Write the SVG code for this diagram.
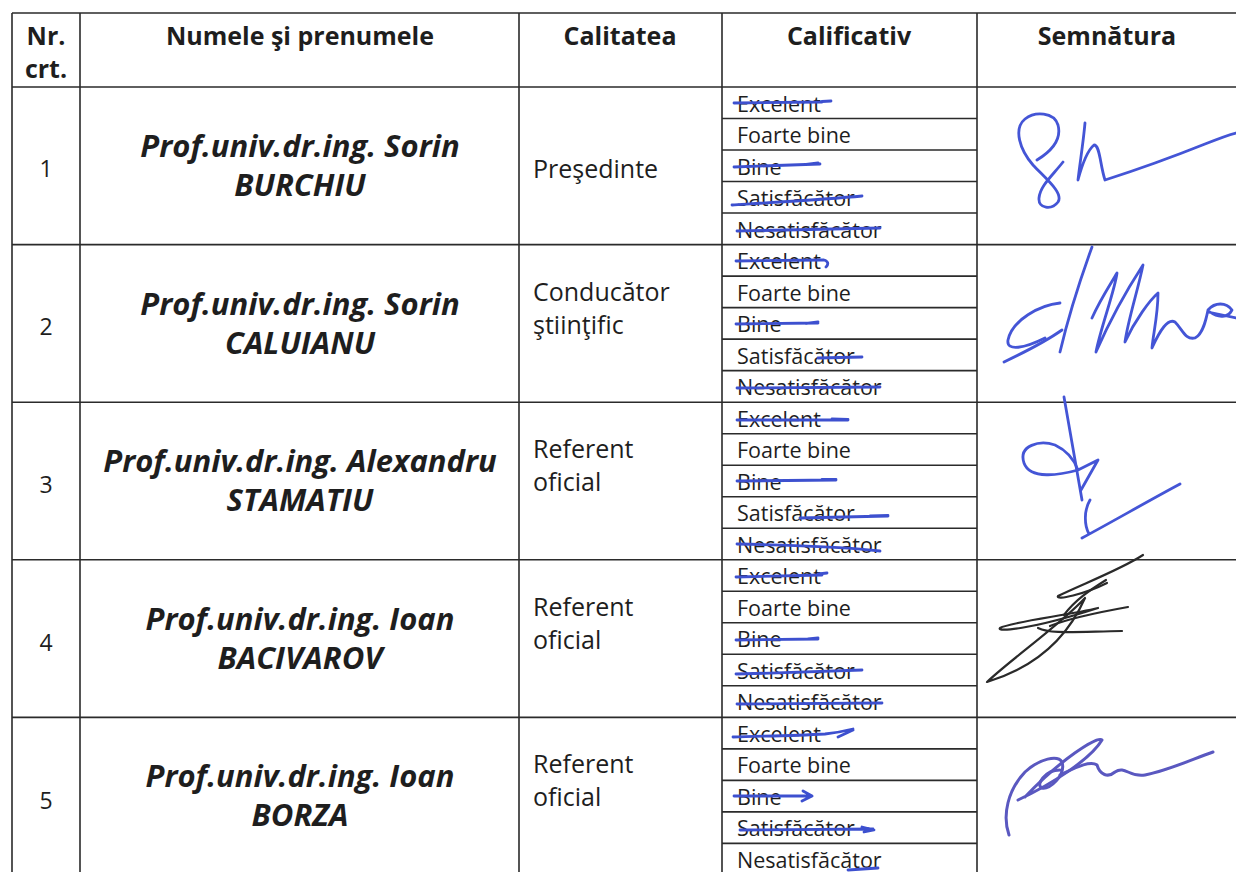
<svg xmlns="http://www.w3.org/2000/svg" width="1236" height="872" viewBox="0 0 1236 872">
<style>
.ln{stroke:#2b2b2b;stroke-width:1.6;fill:none}
.th{font-family:"Open Sans","Noto Sans",sans-serif;font-weight:bold;font-size:25px;fill:#1e1e1e;text-anchor:middle}
.num{font-family:"Open Sans","Noto Sans",sans-serif;font-size:23px;fill:#1e1e1e;text-anchor:middle}
.nm{font-family:"Open Sans","Noto Sans",sans-serif;font-weight:bold;font-style:italic;font-size:31px;fill:#1e1e1e;text-anchor:middle}
.cal{font-family:"Open Sans","Noto Sans",sans-serif;font-size:25px;fill:#1e1e1e}
.sub{font-family:"Open Sans","Noto Sans",sans-serif;font-size:21.5px;fill:#1e1e1e}
.ink{stroke:#3d50cf;stroke-width:2.8;fill:none;stroke-linecap:round;stroke-linejoin:round}
.sig{stroke:#4455d6;stroke-width:2.8;fill:none;stroke-linecap:round;stroke-linejoin:round}
.sigk{stroke:#2a2a2a;stroke-width:2.2;fill:none;stroke-linecap:round;stroke-linejoin:round}
.sigp{stroke:#5a58c0;stroke-width:3;fill:none;stroke-linecap:round;stroke-linejoin:round}
</style>
<rect width="1236" height="872" fill="#ffffff"/>
<g id="grid">
<path class="ln" d="M12,13H1236M12,87H1236M12,244.6H1236M12,402.2H1236M12,559.8H1236M12,717.4H1236"/>
<path class="ln" d="M12,13V872M80,13V872M519,13V872M722,13V872M977,13V872"/>
<path class="ln" d="M722,118.5H977M722,150H977M722,181.5H977M722,213H977"/>
<path class="ln" d="M722,276.1H977M722,307.6H977M722,339.1H977M722,370.6H977"/>
<path class="ln" d="M722,433.7H977M722,465.2H977M722,496.7H977M722,528.2H977"/>
<path class="ln" d="M722,591.3H977M722,622.8H977M722,654.3H977M722,685.8H977"/>
<path class="ln" d="M722,748.9H977M722,780.4H977M722,811.9H977M722,843.4H977"/>
</g>
<g id="header">
<text class="th" x="46" y="45">Nr.</text>
<text class="th" x="46" y="78">crt.</text>
<text class="th" x="300" y="45">Numele şi prenumele</text>
<text class="th" x="620" y="45">Calitatea</text>
<text class="th" x="849" y="45">Calificativ</text>
<text class="th" x="1107" y="45">Semnătura</text>
</g>
<g id="row1">
<text class="num" x="46" y="177">1</text>
<text class="nm" x="300" y="157">Prof.univ.dr.ing. Sorin</text>
<text class="nm" x="300" y="196">BURCHIU</text>
<text class="cal" x="533" y="178">Preşedinte</text>
<text class="sub" x="737" y="111.5">Excelent</text>
<text class="sub" x="737" y="143">Foarte bine</text>
<text class="sub" x="737" y="174.5">Bine</text>
<text class="sub" x="737" y="206">Satisfăcător</text>
<text class="sub" x="737" y="237.5">Nesatisfăcător</text>
<path class="ink" d="M734,103 L822,102 M822,101.5 L831,101"/>
<path class="ink" d="M734,167 C760,166 790,165 820,164 M806,164.5 L818,163"/>
<path class="ink" d="M732,205 C780,202 830,199 862,196"/>
<path class="ink" d="M737,231 C790,230 840,229 880,228"/>
<path class="sig" d="M1037,160 C1050,152 1062,140 1058,125 C1054,112 1035,111 1025,119 C1013,129 1020,150 1033,165 C1045,178 1064,193 1058,202 C1052,210 1038,209 1039,198 C1040,186 1052,176 1063,162"/>
<path class="sig" d="M1085,123 C1083,145 1080,162 1078,180 C1082,165 1088,150 1094,145 C1100,145 1100,165 1105,180 C1130,172 1170,158 1205,144 C1215,140 1228,135 1236,133"/>
</g>
<g id="row2">
<text class="num" x="46" y="335">2</text>
<text class="nm" x="300" y="314.6">Prof.univ.dr.ing. Sorin</text>
<text class="nm" x="300" y="353.6">CALUIANU</text>
<text class="cal" x="533" y="300.6">Conducător</text>
<text class="cal" x="533" y="333.6">ştiinţific</text>
<text class="sub" x="737" y="269.1">Excelent</text>
<text class="sub" x="737" y="300.6">Foarte bine</text>
<text class="sub" x="737" y="332.1">Bine</text>
<text class="sub" x="737" y="363.6">Satisfăcător</text>
<text class="sub" x="737" y="395.1">Nesatisfăcător</text>
<path class="ink" d="M736,261 L824,260 C828,261 829,264 826,267"/>
<path class="ink" d="M736,324 L818,323 M806,323.5 L818,322"/>
<path class="ink" d="M818,358 L862,357"/>
<path class="ink" d="M737,388 L880,387"/>
<path class="sig" d="M1004,362 C1025,352 1045,342 1062,330"/>
<path class="sig" d="M1060,303 C1040,305 1012,320 1008,340 C1006,352 1025,348 1045,338"/>
<path class="sig" d="M1060,352 C1068,318 1080,280 1092,247"/>
<path class="sig" d="M1092,318 C1100,300 1110,285 1117,273 C1115,290 1100,330 1096,352 C1110,320 1130,285 1143,265 C1138,290 1128,320 1125,342 C1135,320 1150,300 1158,293 C1158,315 1153,335 1152,348 C1160,330 1168,318 1175,322 C1183,330 1185,340 1195,338 C1203,334 1206,320 1208,310 C1215,302 1226,302 1232,310 C1228,318 1218,318 1210,312 M1208,312 L1236,318"/>
</g>
<g id="row3">
<text class="num" x="46" y="493">3</text>
<text class="nm" x="300" y="472.2">Prof.univ.dr.ing. Alexandru</text>
<text class="nm" x="300" y="511.2">STAMATIU</text>
<text class="cal" x="533" y="458.2">Referent</text>
<text class="cal" x="533" y="491.2">oficial</text>
<text class="sub" x="737" y="426.7">Excelent</text>
<text class="sub" x="737" y="458.2">Foarte bine</text>
<text class="sub" x="737" y="489.7">Bine</text>
<text class="sub" x="737" y="521.2">Satisfăcător</text>
<text class="sub" x="737" y="552.7">Nesatisfăcător</text>
<path class="ink" d="M737,420 L848,420 M832,419 L848,419.5"/>
<path class="ink" d="M737,481 L836,480 M822,479.5 L836,479.5"/>
<path class="ink" d="M800,518 L888,516 M870,516 L888,515.5"/>
<path class="ink" d="M737,544 C790,545 850,547 880,551"/>
<path class="sig" d="M1064,397 C1070,430 1076,465 1082,500"/>
<path class="sig" d="M1078,470 C1060,475 1030,480 1024,463 C1018,445 1040,440 1055,445 C1070,452 1075,462 1078,470 L1098,460 L1081,490"/>
<path class="sig" d="M1090,500 C1084,510 1084,525 1089,534 M1082,538 C1110,523 1150,500 1180,484"/>
</g>
<g id="row4">
<text class="num" x="46" y="651">4</text>
<text class="nm" x="300" y="629.8">Prof.univ.dr.ing. Ioan</text>
<text class="nm" x="300" y="668.8">BACIVAROV</text>
<text class="cal" x="533" y="615.8">Referent</text>
<text class="cal" x="533" y="648.8">oficial</text>
<text class="sub" x="737" y="584.3">Excelent</text>
<text class="sub" x="737" y="615.8">Foarte bine</text>
<text class="sub" x="737" y="647.3">Bine</text>
<text class="sub" x="737" y="678.8">Satisfăcător</text>
<text class="sub" x="737" y="710.3">Nesatisfăcător</text>
<path class="ink" d="M736,577 L822,575 M818,574 L827,573"/>
<path class="ink" d="M736,640 L818,639 M808,639 L818,638"/>
<path class="ink" d="M736,674 C780,673 830,671 862,670"/>
<path class="ink" d="M737,704 L882,703"/>
<path class="sigk" d="M1143,555 C1120,570 1080,585 1058,596 C1055,601 1085,594 1107,583"/>
<path class="sigk" d="M1098,608 C1070,615 1010,622 1000,628 C996,632 1030,630 1098,608"/>
<path class="sigk" d="M1038,628 C1050,634 1070,632 1122,631"/>
<path class="sigk" d="M1085,598 C1060,625 1010,660 987,682 C1020,672 1062,650 1085,598"/>
<path class="sigk" d="M1128,607 C1100,612 1070,618 1050,626 M1106,580 C1090,590 1075,600 1064,615"/>
</g>
<g id="row5">
<text class="num" x="46" y="809">5</text>
<text class="nm" x="300" y="787.4">Prof.univ.dr.ing. Ioan</text>
<text class="nm" x="300" y="826.4">BORZA</text>
<text class="cal" x="533" y="773.4">Referent</text>
<text class="cal" x="533" y="806.4">oficial</text>
<text class="sub" x="737" y="741.9">Excelent</text>
<text class="sub" x="737" y="773.4">Foarte bine</text>
<text class="sub" x="737" y="804.9">Bine</text>
<text class="sub" x="737" y="836.4">Satisfăcător</text>
<text class="sub" x="737" y="867.9">Nesatisfăcător</text>
<path class="ink" d="M733,737 C760,736 790,736 825,734 C835,733 845,731 853,729 M838,737 L853,730"/>
<path class="ink" d="M734,796 L812,796 L803,791 M812,796 L802,801"/>
<path class="ink" d="M740,830 L873,829 M862,827 L874,830 L864,832"/>
<path class="ink" d="M848,870 L878,868"/>
<path class="sigp" d="M1009,835 C1002,815 1008,790 1025,772 C1040,758 1058,755 1062,762 C1066,775 1050,790 1042,788 C1035,785 1045,770 1060,770"/>
<path class="sigp" d="M1018,800 C1050,785 1090,760 1102,740 C1098,735 1060,760 1025,797"/>
<path class="sigp" d="M1060,775 C1075,768 1090,760 1097,765 C1100,775 1108,778 1115,772 C1125,765 1130,778 1145,775 C1170,770 1195,758 1213,752"/>
</g>
</svg>
